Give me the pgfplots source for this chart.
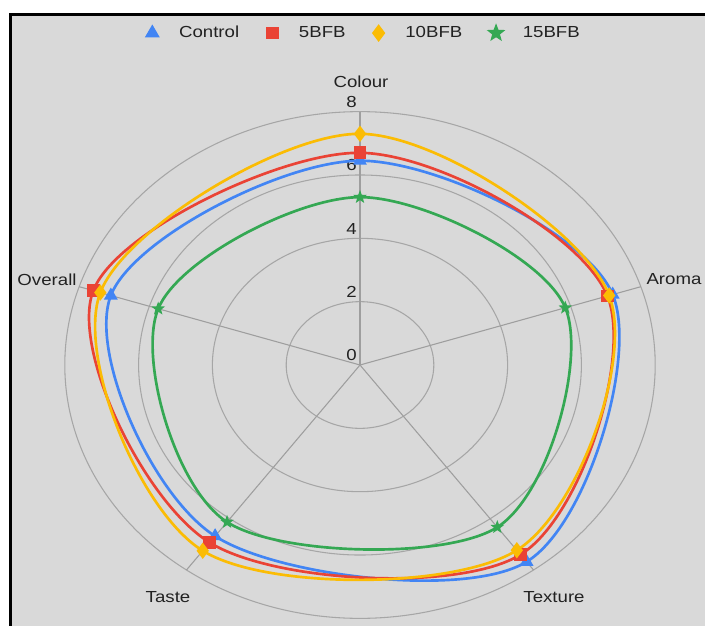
\documentclass[border=0pt]{standalone}
\usepackage{pgfplots}
\pgfplotsset{compat=1.18}
\usepackage{fontspec}
\setmainfont{Liberation Sans}[FakeStretch=1.165]
\definecolor{bg}{HTML}{D9D9D9}
\definecolor{gridc}{HTML}{A6A6A6}
\definecolor{spokec}{HTML}{9E9E9E}
\definecolor{cblue}{HTML}{4285F4}
\definecolor{cred}{HTML}{EA4335}
\definecolor{cyellow}{HTML}{FBBC04}
\definecolor{cgreen}{HTML}{34A853}
\definecolor{txt}{HTML}{222222}
\pgfdeclareplotmark{fstar}{%
  \pgfpathmoveto{\pgfpointpolar{90}{\pgfplotmarksize}}%
  \pgfpathlineto{\pgfpointpolar{126}{0.42\pgfplotmarksize}}%
  \pgfpathlineto{\pgfpointpolar{162}{\pgfplotmarksize}}%
  \pgfpathlineto{\pgfpointpolar{198}{0.42\pgfplotmarksize}}%
  \pgfpathlineto{\pgfpointpolar{234}{\pgfplotmarksize}}%
  \pgfpathlineto{\pgfpointpolar{270}{0.42\pgfplotmarksize}}%
  \pgfpathlineto{\pgfpointpolar{306}{\pgfplotmarksize}}%
  \pgfpathlineto{\pgfpointpolar{342}{0.42\pgfplotmarksize}}%
  \pgfpathlineto{\pgfpointpolar{18}{\pgfplotmarksize}}%
  \pgfpathlineto{\pgfpointpolar{54}{0.42\pgfplotmarksize}}%
  \pgfpathclose
  \pgfusepathqfillstroke
}
\begin{document}
\begin{tikzpicture}
\begin{axis}[
  x=27.675pt, y=23.7525pt, scale only axis,
  xmin=-9.7561, xmax=9.3496, ymin=-8.2413, ymax=11.5251,
  hide axis, clip=false,
  legend style={at={(axis cs:0.13,10.48)}, anchor=center, draw=none, fill=none,
    legend columns=4, text=txt, font=\fontsize{12}{14}\selectfont,
    /tikz/every even column/.append style={column sep=19pt}},
  legend image code/.code={\draw[#1, only marks] plot coordinates {(0cm,0cm)}; \path (0.6cm,0cm);},
  series/.style={line width=2pt, smooth cycle, tension=0.55, mark options={solid, line width=0.4pt}},
]
% background
\fill[white] (rel axis cs:0,0) rectangle (rel axis cs:1,1);
\fill[bg] (rel axis cs:0.01702,0) rectangle (rel axis cs:1,0.97444);
\fill[black] (rel axis cs:0.01277,0) rectangle (rel axis cs:0.01702,0.97923);
\fill[black] (rel axis cs:0.01277,0.97444) rectangle (rel axis cs:1,0.97923);
% circular grid
\pgfplotsinvokeforeach{2,4,6,8}{
  \draw[gridc, line width=0.8pt] (axis cs:0,0) ellipse [x radius=#1, y radius=#1];
}
% spokes
\addplot[spokec, line width=0.8pt, data cs=polar, forget plot] coordinates {(0,0) (90,8)};
\addplot[spokec, line width=0.8pt, data cs=polar, forget plot] coordinates {(0,0) (18,8)};
\addplot[spokec, line width=0.8pt, data cs=polar, forget plot] coordinates {(0,0) (-54,8)};
\addplot[spokec, line width=0.8pt, data cs=polar, forget plot] coordinates {(0,0) (-126,8)};
\addplot[spokec, line width=0.8pt, data cs=polar, forget plot] coordinates {(0,0) (162,8)};
% tick labels
\pgfplotsinvokeforeach{0,2,4,6,8}{
  \node[anchor=base east, inner sep=0pt, text=txt, font=\fontsize{12}{14}\selectfont, xshift=-2.3pt, yshift=3.2pt] at (axis cs:0,#1) {#1};
}
% data: Colour, Aroma, Texture, Taste, Overall
\addplot[series, cblue, mark=triangle*, mark size=4pt, mark options={fill=cblue},
  legend image post style={mark size=4.5pt}, data cs=polar]
  coordinates {(90,6.45) (18,7.2) (-54,7.68) (-126,6.68) (162,7.1)};
\addlegendentry{Control}
\addplot[series, cred, mark=square*, mark size=3.8pt, mark options={fill=cred},
  legend image post style={mark size=3.8pt}, data cs=polar]
  coordinates {(90,6.7) (18,7.05) (-54,7.4) (-126,6.93) (162,7.6)};
\addlegendentry{5BFB}
\addplot[series, cyellow, mark=diamond*, mark size=4.5pt, mark options={fill=cyellow},
  legend image post style={mark size=5pt}, data cs=polar]
  coordinates {(90,7.3) (18,7.1) (-54,7.23) (-126,7.25) (162,7.4)};
\addlegendentry{10BFB}
\addplot[series, cgreen, mark=fstar, mark size=2.5pt, mark options={fill=cgreen},
  legend image post style={mark size=4.5pt}, data cs=polar]
  coordinates {(90,5.3) (18,5.85) (-54,6.33) (-126,6.13) (162,5.75)};
\addlegendentry{15BFB}
% axis labels
\begin{scope}[every node/.style={inner sep=0pt, text=txt, font=\fontsize{12}{14}\selectfont}]
\node at (axis cs:0.027,8.936) {Colour};
\node at (axis cs:8.509,2.711) {Aroma};
\node at (axis cs:5.258,-7.326) {Texture};
\node at (axis cs:-5.203,-7.326) {Taste};
\node at (axis cs:-8.482,2.684) {Overall};
\end{scope}
\end{axis}
\end{tikzpicture}
\end{document}
